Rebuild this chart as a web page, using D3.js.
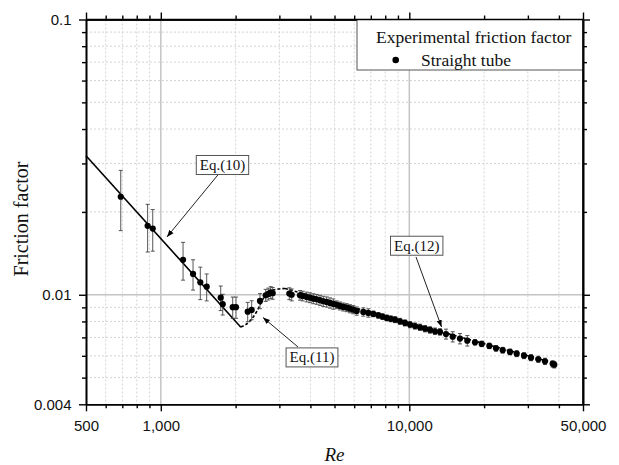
<!DOCTYPE html>
<html>
<head>
<meta charset="utf-8">
<script src="https://cdn.jsdelivr.net/npm/d3@7"></script>
<style>
  html, body { margin: 0; padding: 0; background: #fff; }
  svg { display: block; }
</style>
</head>
<body>
<svg id="chart" width="619" height="465"></svg>
<script>
// Measured friction factor, straight tube
const reValues = [
  690, 885, 928, 1229, 1348, 1442, 1530, 1742, 1775, 1947, 2007, 2237, 2321,
  2507, 2643, 2707, 2769, 2820, 3289, 3363,
  3631, 3724, 3864, 3984, 4108, 4240, 4371, 4506, 4651, 4796, 4945, 5103,
  5261, 5426, 5600, 5772, 5952, 6144, 6530, 6839, 7163, 7503, 7800, 8110,
  8420, 8759, 9173, 9608, 10065, 10540, 11043, 11566, 12114, 12688, 13289,
  14050, 14950, 15990, 17110, 18380, 19560, 20990, 22330, 23760, 25420,
  27050, 28940, 30880, 33050, 35160, 37750, 38320
];
const fValues = [
  0.0227, 0.0178, 0.0174, 0.0134, 0.0119, 0.0111, 0.0107, 0.00976, 0.00924,
  0.00901, 0.00901, 0.00868, 0.00881, 0.0095, 0.00996, 0.01007, 0.0102,
  0.01013, 0.0101, 0.0100,
  0.00996, 0.00990, 0.00982, 0.00976, 0.00968, 0.00963, 0.00955, 0.00947,
  0.00942, 0.00934, 0.00926, 0.00920, 0.00911, 0.00903, 0.00898, 0.00890,
  0.00883, 0.00873, 0.00866, 0.00859, 0.00852, 0.00842, 0.00833, 0.00824,
  0.00818, 0.00812, 0.00801, 0.00790, 0.00779, 0.00770, 0.00762, 0.00753,
  0.00745, 0.00737, 0.00733,
  0.00720, 0.00704, 0.00693, 0.00681, 0.00672, 0.00663, 0.00652, 0.00639,
  0.00629, 0.00620, 0.00611, 0.00601, 0.00591, 0.00583, 0.00573, 0.00561,
  0.00557
];
const fErrors = [
  0.0056, 0.0035, 0.0030, 0.0021, 0.0015, 0.0015, 0.0012, 0.0010, 0.0008,
  0.0008, 0.0008, 0.0007, 0.0007, 0.0006, 0.0005, 0.0005, 0.0005, 0.0005,
  0.0005, 0.0005,
  0.0004, 0.0004, 0.0004, 0.0004, 0.0004, 0.0004, 0.0004, 0.0004, 0.0004,
  0.0004, 0.0004, 0.0003, 0.0003, 0.0003, 0.0003, 0.0003, 0.0003, 0.0003,
  0.0003, 0.0003, 0.0002, 0.0002, 0.0002, 0.0002, 0.0002, 0.0002, 0.0002,
  0.0002, 0.0002, 0.0002, 0.0002, 0.0002, 0.0002, 0.0002, 0.0002,
  0.0003, 0.0003, 0.0003, 0.0003, 0.00015, 0.00015, 0.00015, 0.00015,
  0.00015, 0.00015, 0.00015, 0.00015, 0.00015, 0.00015, 0.00015, 0.00015,
  0.00015
];

// Correlation curves
const eq10Re = [500, 2100];
const eq10F = [0.032, 0.00762];
const eq11Re = [2102, 2285, 2439, 2554, 2651, 2828, 3161];
const eq11F = [0.00764, 0.00803, 0.00873, 0.0095, 0.01007, 0.01041, 0.01054];
const eq12Re = [3161, 10000, 38500];
const eq12F = [0.01054, 0.0079, 0.00564];

// Axis ticks
const xMajorTicks = [500, 1000, 10000, 50000];
const xTickLabels = ["500", "1,000", "10,000", "50,000"];
const xMinorTicks = [600, 700, 800, 900, 2000, 3000, 4000, 5000, 6000, 7000,
  8000, 9000, 20000, 30000, 40000];
const yMajorTicks = [0.004, 0.01, 0.1];
const yTickLabels = ["0.004", "0.01", "0.1"];
const yMinorTicks = [0.005, 0.006, 0.007, 0.008, 0.009, 0.02, 0.03, 0.04,
  0.05, 0.06, 0.07, 0.08, 0.09];
const xGridMajor = [1000, 10000];
const yGridMajor = [0.01];

// Equation call-outs: box centre, arrow tail and arrow tip (Re, f)
const noteLabels = ["Eq.(10)", "Eq.(11)", "Eq.(12)"];
const noteBoxRe = [1771, 4059, 10710];
const noteBoxF = [0.02961, 0.005921, 0.01507];
const noteTailRe = [1703, 3565, 10640];
const noteTailF = [0.02735, 0.006462, 0.01372];
const noteTipRe = [1059, 2578, 13480];
const noteTipF = [0.01622, 0.008268, 0.007638];

const SERIF = "'Liberation Serif', 'Times New Roman', serif";
const SANS = "'Liberation Sans', Arial, sans-serif";

const plot = { left: 86, right: 583, top: 19.5, bottom: 404.3 };
const svg = d3.select("#chart");

const x = d3.scaleLog().domain([500, 50000]).range([plot.left, plot.right]);
const y = d3.scaleLog().domain([0.004, 0.1]).range([plot.bottom, plot.top]);

// Grid
const grid = svg.append("g");
grid.selectAll("line.xminor").data(xMinorTicks).join("line")
  .attr("x1", d => x(d)).attr("x2", d => x(d))
  .attr("y1", plot.top).attr("y2", plot.bottom)
  .attr("stroke", "#d4d4d4").attr("stroke-width", 1).attr("stroke-dasharray", "2,2");
grid.selectAll("line.yminor").data(yMinorTicks).join("line")
  .attr("y1", d => y(d)).attr("y2", d => y(d))
  .attr("x1", plot.left).attr("x2", plot.right)
  .attr("stroke", "#d4d4d4").attr("stroke-width", 1).attr("stroke-dasharray", "2,2");
grid.selectAll("line.xmajor").data(xGridMajor).join("line")
  .attr("x1", d => x(d)).attr("x2", d => x(d))
  .attr("y1", plot.top).attr("y2", plot.bottom)
  .attr("stroke", "#c4c4c4").attr("stroke-width", 1.5);
grid.selectAll("line.ymajor").data(yGridMajor).join("line")
  .attr("y1", d => y(d)).attr("y2", d => y(d))
  .attr("x1", plot.left).attr("x2", plot.right)
  .attr("stroke", "#c4c4c4").attr("stroke-width", 1.5);

// Correlation lines
const line = d3.line().x(d => x(d[0])).y(d => y(d[1]));
svg.append("path").datum(d3.zip(eq10Re, eq10F))
  .attr("d", line).attr("fill", "none").attr("stroke", "#000").attr("stroke-width", 1.6);
svg.append("path").datum(d3.zip(eq11Re, eq11F))
  .attr("d", d3.line().curve(d3.curveMonotoneX).x(d => x(d[0])).y(d => y(d[1])))
  .attr("fill", "none").attr("stroke", "#000").attr("stroke-width", 1.6)
  .attr("stroke-dasharray", "3,2");
svg.append("path").datum(d3.zip(eq12Re, eq12F))
  .attr("d", line).attr("fill", "none").attr("stroke", "#000").attr("stroke-width", 1.6)
  .attr("stroke-dasharray", "3,2");

// Error bars and points
const pts = d3.zip(reValues, fValues, fErrors);
const eb = svg.append("g").attr("stroke", "#444").attr("stroke-width", 0.9);
pts.forEach(([re, f, e]) => {
  const cx = x(re), y1 = y(f + e), y2 = y(f - e);
  eb.append("line").attr("x1", cx).attr("x2", cx).attr("y1", y1).attr("y2", y2);
  eb.append("line").attr("x1", cx - 2).attr("x2", cx + 2).attr("y1", y1).attr("y2", y1);
  eb.append("line").attr("x1", cx - 2).attr("x2", cx + 2).attr("y1", y2).attr("y2", y2);
});
svg.append("g").selectAll("circle").data(pts).join("circle")
  .attr("cx", d => x(d[0])).attr("cy", d => y(d[1])).attr("r", 3.1)
  .attr("fill", "#000");

// Call-outs
svg.append("defs").append("marker")
  .attr("id", "arrow").attr("viewBox", "0 0 10 10")
  .attr("refX", 10).attr("refY", 5)
  .attr("markerWidth", 7).attr("markerHeight", 7)
  .attr("markerUnits", "userSpaceOnUse")
  .attr("orient", "auto")
  .append("path").attr("d", "M0,1.2 L10,5 L0,8.8 Z").attr("fill", "#000");

noteLabels.forEach((label, i) => {
  const g = svg.append("g");
  g.append("line")
    .attr("x1", x(noteTailRe[i])).attr("y1", y(noteTailF[i]))
    .attr("x2", x(noteTipRe[i])).attr("y2", y(noteTipF[i]))
    .attr("stroke", "#222").attr("stroke-width", 1)
    .attr("marker-end", "url(#arrow)");
  const cx = x(noteBoxRe[i]), cy = y(noteBoxF[i]);
  const rect = g.append("rect").attr("fill", "#fff")
    .attr("stroke", "#555").attr("stroke-width", 1);
  const t = g.append("text").attr("x", cx).attr("y", cy + 5)
    .attr("text-anchor", "middle").attr("font-family", SERIF)
    .attr("font-size", 15).attr("fill", "#111").text(label);
  const w = t.node().getComputedTextLength() + 7;
  rect.attr("x", cx - w / 2).attr("y", cy - 9.5).attr("width", w).attr("height", 19);
});

// Axes
function styleAxis(g) {
  g.selectAll(".domain").attr("stroke", "#000").attr("stroke-width", 1.6);
  g.selectAll(".tick line").attr("stroke", "#000").attr("stroke-width", 1.4);
}
const fmtX = d => xTickLabels[xMajorTicks.indexOf(d)];
const fmtY = d => yTickLabels[yMajorTicks.indexOf(d)];

const axB = svg.append("g").attr("transform", `translate(0,${plot.bottom})`);
axB.append("g").call(d3.axisBottom(x).tickValues(xMinorTicks).tickSize(4).tickSizeOuter(0).tickFormat(""));
axB.append("g").call(d3.axisBottom(x).tickValues(xMajorTicks).tickSize(7).tickSizeOuter(0)
  .tickPadding(9.5).tickFormat(fmtX));
const axT = svg.append("g").attr("transform", `translate(0,${plot.top})`);
axT.append("g").call(d3.axisTop(x).tickValues(xMinorTicks).tickSize(4).tickSizeOuter(0).tickFormat(""));
axT.append("g").call(d3.axisTop(x).tickValues(xMajorTicks).tickSize(7).tickSizeOuter(0).tickFormat(""));
const axL = svg.append("g").attr("transform", `translate(${plot.left},0)`);
axL.append("g").call(d3.axisLeft(y).tickValues(yMinorTicks).tickSize(4).tickSizeOuter(0).tickFormat(""));
axL.append("g").call(d3.axisLeft(y).tickValues(yMajorTicks).tickSize(7).tickSizeOuter(0)
  .tickPadding(7.5).tickFormat(fmtY));
const axR = svg.append("g").attr("transform", `translate(${plot.right},0)`);
axR.append("g").call(d3.axisRight(y).tickValues(yMinorTicks).tickSize(4).tickSizeOuter(0).tickFormat(""));
axR.append("g").call(d3.axisRight(y).tickValues(yMajorTicks).tickSize(7).tickSizeOuter(0).tickFormat(""));
[axB, axT, axL, axR].forEach(a => {
  styleAxis(a);
  a.selectAll("text").attr("font-family", SANS).attr("font-size", 15).attr("fill", "#111");
});

// Legend
const lg = svg.append("g");
lg.append("rect").attr("x", 357).attr("y", plot.top).attr("width", plot.right - 357)
  .attr("height", 50.5).attr("fill", "#fff").attr("stroke", "#555").attr("stroke-width", 1);
lg.append("text").attr("x", 376).attr("y", 43).attr("font-family", SERIF)
  .attr("font-size", 17.5).attr("fill", "#111").text("Experimental friction factor");
lg.append("circle").attr("cx", 395.7).attr("cy", 60).attr("r", 3.3).attr("fill", "#000");
lg.append("text").attr("x", 421).attr("y", 65.5).attr("font-family", SERIF)
  .attr("font-size", 17.5).attr("fill", "#111").text("Straight tube");
// keep the frame edges crisp on top of the legend box
svg.append("line").attr("x1", plot.right).attr("x2", plot.right)
  .attr("y1", plot.top).attr("y2", plot.bottom).attr("stroke", "#000").attr("stroke-width", 1.6);
svg.append("line").attr("x1", plot.left).attr("x2", plot.right)
  .attr("y1", plot.top).attr("y2", plot.top).attr("stroke", "#000").attr("stroke-width", 1.6);

// Axis titles
svg.append("text").attr("transform", `translate(28,219) rotate(-90)`)
  .attr("text-anchor", "middle").attr("font-family", SERIF).attr("font-size", 20)
  .attr("fill", "#111").text("Friction factor");
svg.append("text").attr("x", (plot.left + plot.right) / 2).attr("y", 461)
  .attr("text-anchor", "middle").attr("font-family", SERIF).attr("font-size", 19)
  .attr("font-style", "italic").attr("fill", "#111").text("Re");
</script>
</body>
</html>
